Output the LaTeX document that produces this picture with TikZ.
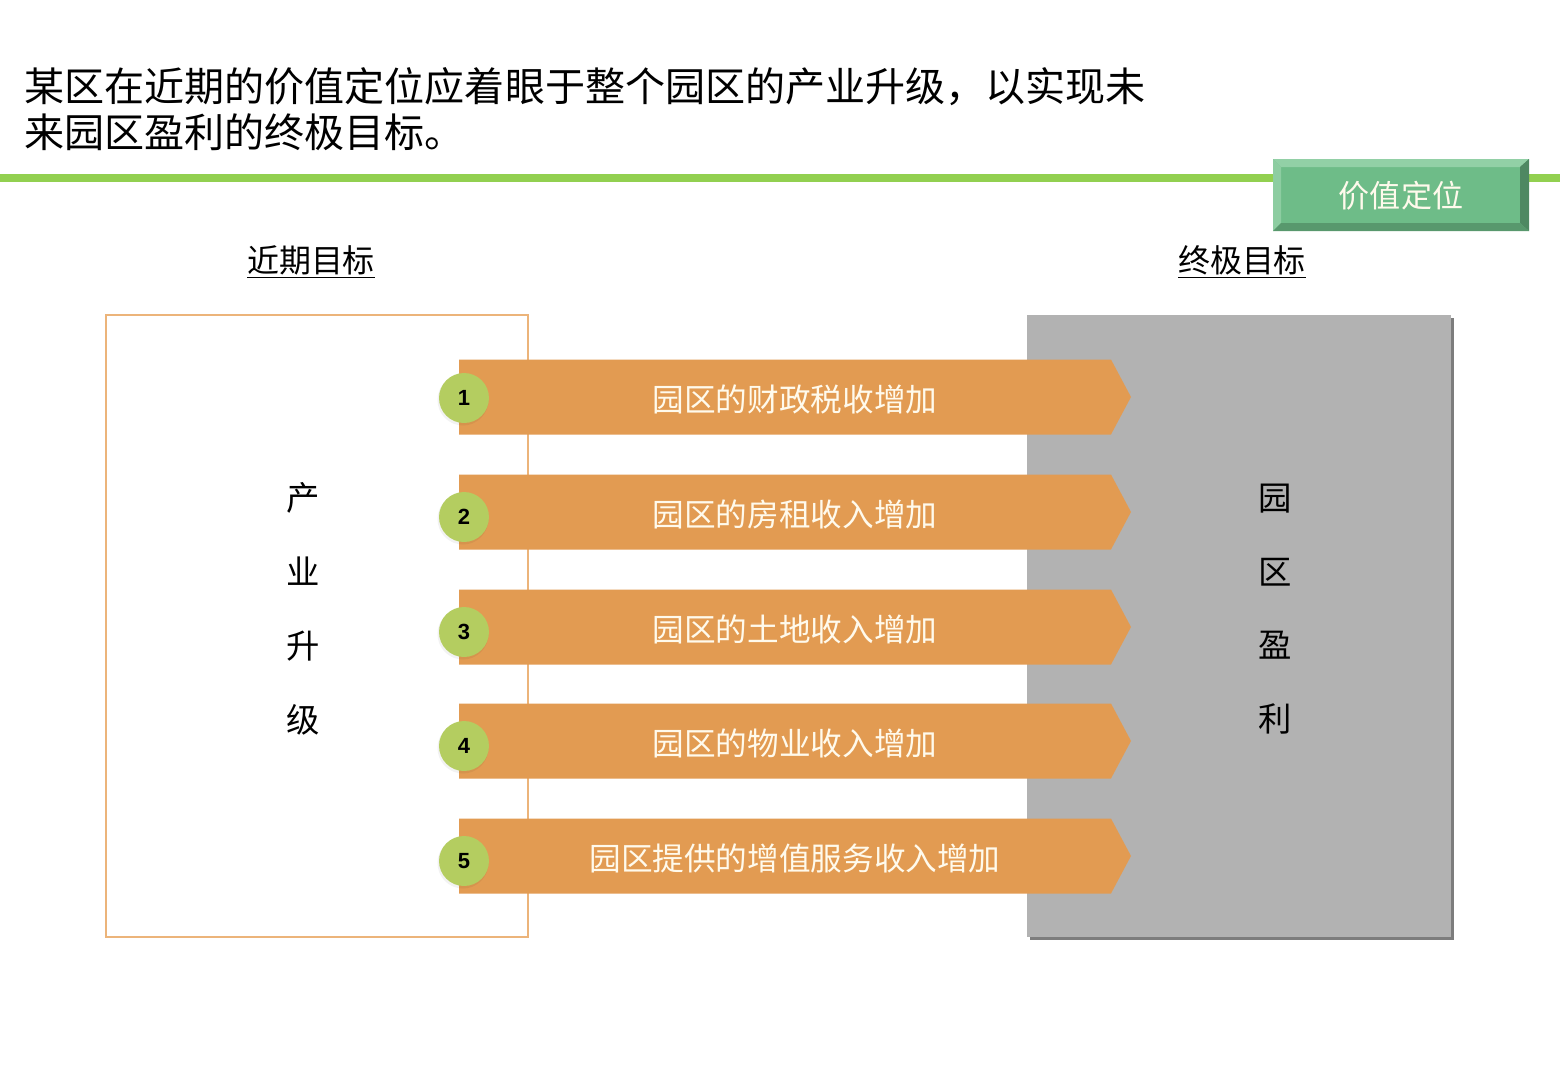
\documentclass[tikz,border=0pt]{standalone}
\usepackage{fontspec}
\setmainfont{Noto Sans CJK SC}
\newfontfamily\cjk{Noto Sans CJK SC}
\newfontfamily\numfont{Liberation Sans}
\usepackage{tikz}
\definecolor{barorange}{RGB}{226,155,82}
\definecolor{dotgreen}{RGB}{180,205,96}
\definecolor{goalgray}{RGB}{178,178,178}
\definecolor{goalshadow}{RGB}{125,125,125}
\definecolor{boxorange}{RGB}{236,180,122}
\definecolor{rulegreen}{RGB}{146,208,80}
\definecolor{badgegreen}{RGB}{110,188,136}
\definecolor{badgelight}{RGB}{146,208,166}
\definecolor{badgedark}{RGB}{78,136,98}
\definecolor{bartxt}{RGB}{255,250,236}
\tikzset{numdot/.style={circle, fill=dotgreen, minimum size=1cm, inner sep=0pt, font=\numfont\bfseries\fontsize{12.5}{12.5}\selectfont},
bartext/.style={rectangle, draw=none, text=bartxt, inner sep=0pt, font=\cjk\fontsize{18}{18}\selectfont},
subhead/.style={rectangle, draw=none, inner sep=0pt, font=\cjk\fontsize{18.2}{18.2}\selectfont},
vertword/.style={rectangle, draw=none, inner sep=0pt, align=center, font=\cjk\fontsize{19}{42}\selectfont}}

\begin{document}
\begin{tikzpicture}[x=0.02cm, y=-0.02cm]
\useasboundingbox[fill=white] (0,0) rectangle (1560,1080);

%%Title
\node[rectangle, draw=none, inner sep=0pt, anchor=west, align=left, font=\cjk\fontsize{22.8}{26.2}\selectfont] (title) at (24,109) {某区在近期的价值定位应着眼于整个园区的产业升级，以实现未\\来园区盈利的终极目标。};
\draw[rulegreen, line width=4pt] (0,178) -- (1560,178);

%%Badge
\begin{scope}
\fill[badgegreen] (1273,159) rectangle (1529,231);
\fill[badgelight] (1273,159) -- (1529,159) -- (1520,167) -- (1281,167) -- cycle;
\fill[badgelight!85!badgegreen] (1273,159) -- (1281,167) -- (1281,223) -- (1273,231) -- cycle;
\fill[badgedark] (1529,159) -- (1529,231) -- (1520,223) -- (1520,167) -- cycle;
\fill[badgedark!70!badgegreen] (1273,231) -- (1529,231) -- (1520,223) -- (1281,223) -- cycle;
\node[rectangle, draw=none, inner sep=0pt, text=bartxt, font=\cjk\fontsize{17.7}{17.7}\selectfont] (badge) at (1401,196) {价值定位};
\end{scope}

%%Sub heads
\node[subhead] (near) at (311,262) {\underline{近期目标}};
\node[subhead] (final) at (1242,262) {\underline{终极目标}};

%%Boxes
\draw[boxorange, line width=0.8pt] (106,315) rectangle (528,937);
\fill[goalshadow] (1030,318) rectangle (1454,940);
\fill[goalgray] (1027,315) rectangle (1451,937);
\node[vertword] (upgrade) at (303,609) {产\\业\\升\\级};
\node[vertword] (profit) at (1275,609) {园\\区\\盈\\利};

%%Bars
\foreach \i/\y/\d/\txt in {1/397/398/园区的财政税收增加, 2/512/517/园区的房租收入增加, 3/627/632/园区的土地收入增加, 4/741/746/园区的物业收入增加, 5/856/861/园区提供的增值服务收入增加} {
  \fill[barorange] (459,\y-37.5) -- (1111,\y-37.5) -- (1131,\y) -- (1111,\y+37.5) -- (459,\y+37.5) -- cycle;
  \node[bartext] (bar\i) at (795,\y+2) {\txt};
  \fill[black, opacity=0.05] (463,\d+2) circle [radius=25.5];
  \node[numdot] (num\i) at (464,\d) {\i};
}

\end{tikzpicture}
\end{document}
